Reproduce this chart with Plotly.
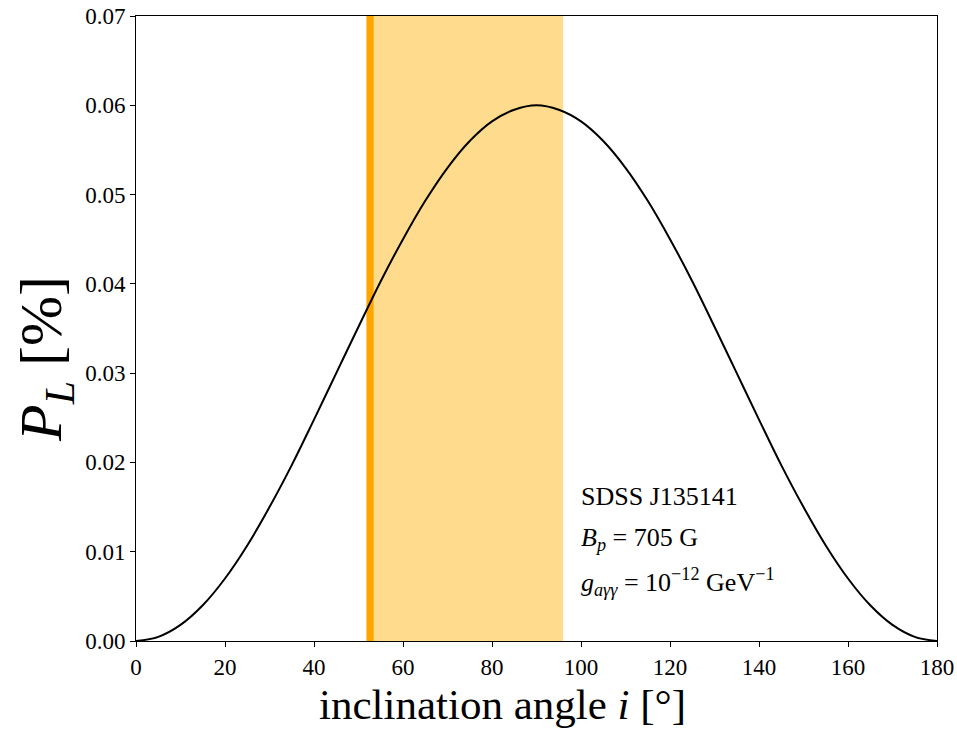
import plotly.graph_objects as go

# inclination angle (deg) and linear polarization P_L (%)
angle = [0, 5, 10, 15, 20, 25, 30, 35, 40, 45, 50, 55, 60, 65, 70, 75, 80, 85, 90,
         95, 100, 105, 110, 115, 120, 125, 130, 135, 140, 145, 150, 155, 160, 165, 170, 175, 180]
pol = [0.0, 0.00046, 0.0018, 0.0040, 0.0070, 0.0107, 0.0150, 0.0197, 0.0248, 0.0300,
       0.0352, 0.0403, 0.0450, 0.0493, 0.0530, 0.0560, 0.0582, 0.0595, 0.0600,
       0.0595, 0.0582, 0.0560, 0.0530, 0.0493, 0.0450, 0.0403, 0.0352, 0.0300,
       0.0248, 0.0197, 0.0150, 0.0107, 0.0070, 0.0040, 0.0018, 0.00046, 0.0]

# constraint bands on inclination
band_light = (51.8, 96.0)
band_dark = (51.8, 53.4)

x_ticks = [0, 20, 40, 60, 80, 100, 120, 140, 160, 180]
y_ticks = [0.00, 0.01, 0.02, 0.03, 0.04, 0.05, 0.06, 0.07]

x_title = "inclination angle <i>i</i> [°]"
y_title = "<i>P</i><sub><i>L</i></sub> [%]"

font_family = "Liberation Serif, DejaVu Serif, serif"

fig = go.Figure()

fig.add_vrect(x0=band_light[0], x1=band_light[1], fillcolor="rgba(255,200,80,0.65)",
              line_width=0, layer="below")
fig.add_vrect(x0=band_dark[0], x1=band_dark[1], fillcolor="#ffa500",
              line_width=0, layer="below")

fig.add_trace(go.Scatter(x=angle, y=pol, mode="lines", line=dict(color="black", width=2, shape="spline"),
                         showlegend=False, hoverinfo="skip"))

texts = ["SDSS J135141",
         "<i>B</i><sub><i>p</i></sub> = 705 G",
         "<i>g</i><sub><i>aγγ</i></sub> = 10<sup>−12</sup> GeV<sup>−1</sup>"]
ys = [0.0162, 0.0114, 0.0066]
for t, yv in zip(texts, ys):
    fig.add_annotation(x=99.5, y=yv, text=t, showarrow=False, xanchor="left", yanchor="middle",
                       font=dict(family=font_family, size=26, color="black"))

# axis titles (placed as annotations to match reference offsets)
fig.add_annotation(xref="paper", yref="paper", x=0.457, y=-0.101, text=x_title, showarrow=False,
                   xanchor="center", yanchor="middle",
                   font=dict(family=font_family, size=43, color="black"))
fig.add_annotation(xref="paper", yref="paper", x=-0.113, y=0.452, text=y_title, showarrow=False,
                   xanchor="center", yanchor="middle", textangle=-90,
                   font=dict(family=font_family, size=60, color="black"))

axis_common = dict(showline=True, linecolor="black", linewidth=1, mirror=True,
                   ticks="outside", ticklen=5, tickwidth=1, tickcolor="black",
                   showgrid=False, zeroline=False, automargin=False,
                   tickfont=dict(family=font_family, size=23, color="black"))

fig.update_xaxes(range=[0, 180], tickvals=x_ticks, ticktext=[str(v) for v in x_ticks], **axis_common)
fig.update_yaxes(range=[0, 0.07], tickvals=y_ticks, ticktext=[f"{v:.2f}" for v in y_ticks], **axis_common)

fig.update_layout(width=957, height=730, plot_bgcolor="white", paper_bgcolor="white",
                  margin=dict(l=136, r=20, t=16, b=89), showlegend=False)

fig.write_html("out.html", config={"displayModeBar": False},
               post_script="document.body.style.margin='0';document.body.style.overflow='hidden';")
